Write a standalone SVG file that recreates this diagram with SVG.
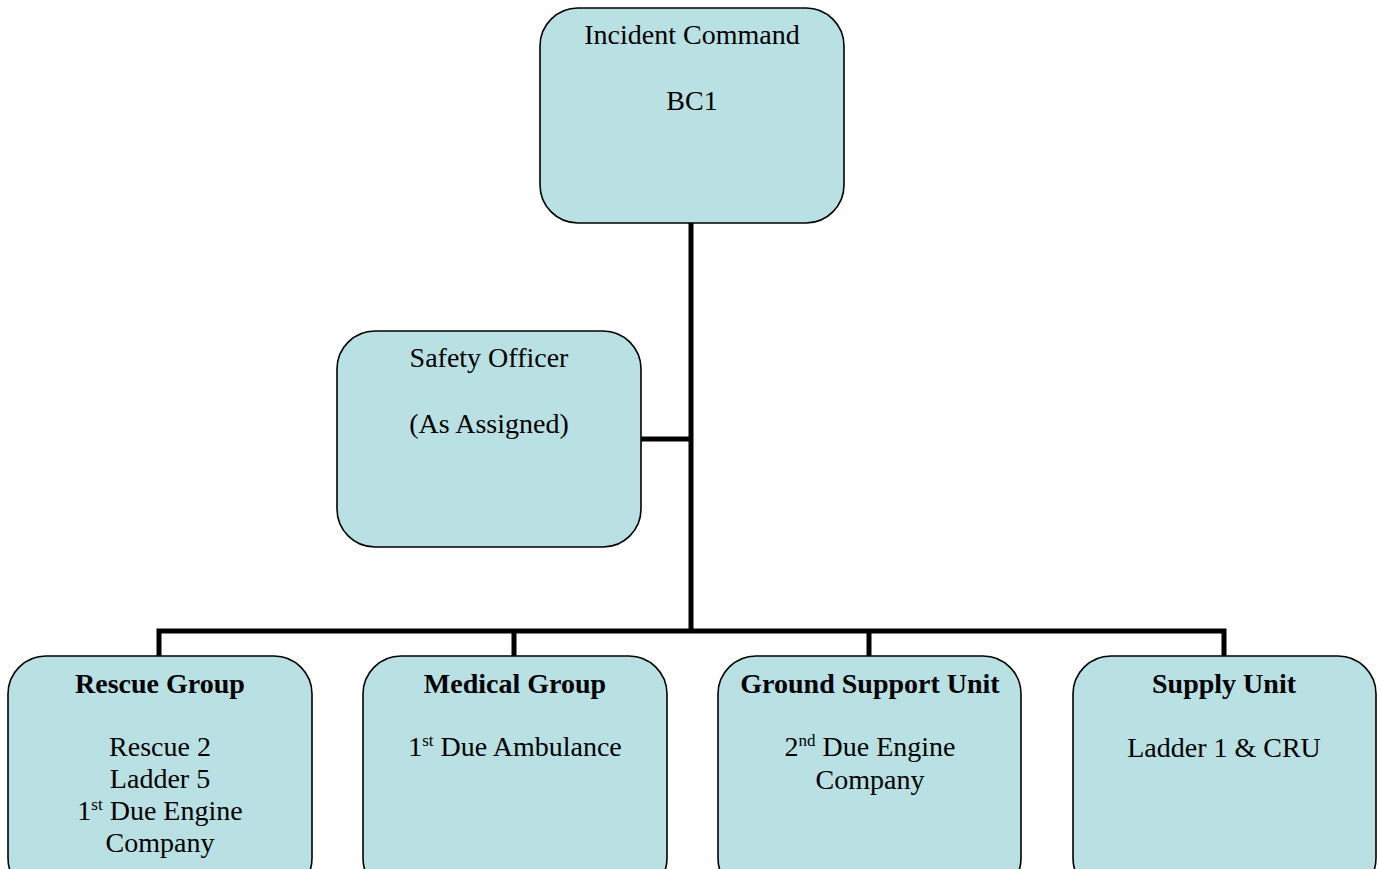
<svg xmlns="http://www.w3.org/2000/svg" width="1380" height="869" viewBox="0 0 1380 869">
<style>
.box{fill:#b9e0e3;stroke:#000;stroke-width:1.6}
.t{font-family:"Liberation Serif","Times New Roman",serif;font-size:28px;fill:#000;text-anchor:middle}
.b{font-weight:bold}
.c{stroke:#000;stroke-width:5;fill:none}
.s{font-size:17px}
</style>
<rect width="1380" height="869" fill="#fff"/>
<g id="connectors">
<path class="c" d="M691 223V633"/>
<path class="c" d="M641 439H691"/>
<path class="c" d="M159 657V631H1224V657"/>
<path class="c" d="M514 631V657M869 631V657"/>
</g>
<g id="incident-command">
<rect class="box" x="540" y="8" width="304" height="215" rx="38"/>
<text class="t" x="692" y="44">Incident Command</text>
<text class="t" x="692" y="110">BC1</text>
</g>
<g id="safety-officer">
<rect class="box" x="337" y="331" width="304" height="216" rx="38"/>
<text class="t" x="489" y="367">Safety Officer</text>
<text class="t" x="489" y="433">(As Assigned)</text>
</g>
<g id="rescue-group">
<rect class="box" x="8" y="656" width="304" height="240" rx="38"/>
<text class="t b" x="160" y="693">Rescue Group</text>
<text class="t" x="160" y="756">Rescue 2</text>
<text class="t" x="160" y="788">Ladder 5</text>
<text class="t" x="160" y="820">1<tspan class="s" dy="-10">st</tspan><tspan dy="10"> Due Engine</tspan></text>
<text class="t" x="160" y="852">Company</text>
</g>
<g id="medical-group">
<rect class="box" x="363" y="656" width="304" height="240" rx="38"/>
<text class="t b" x="515" y="693">Medical Group</text>
<text class="t" x="515" y="756">1<tspan class="s" dy="-10">st</tspan><tspan dy="10"> Due Ambulance</tspan></text>
</g>
<g id="ground-support-unit">
<rect class="box" x="718" y="656" width="303" height="240" rx="38"/>
<text class="t b" x="870" y="693">Ground Support Unit</text>
<text class="t" x="870" y="756">2<tspan class="s" dy="-10">nd</tspan><tspan dy="10"> Due Engine</tspan></text>
<text class="t" x="870" y="789">Company</text>
</g>
<g id="supply-unit">
<rect class="box" x="1073" y="656" width="303" height="240" rx="38"/>
<text class="t b" x="1224" y="693">Supply Unit</text>
<text class="t" x="1224" y="757">Ladder 1 &amp; CRU</text>
</g>
</svg>
